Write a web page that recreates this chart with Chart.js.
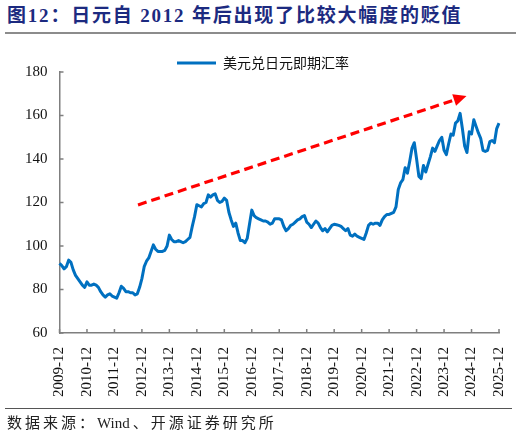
<!DOCTYPE html>
<html lang="zh-CN">
<head>
<meta charset="utf-8">
<title>日元自2012年后出现了比较大幅度的贬值</title>
<script src="https://cdn.jsdelivr.net/npm/chart.js@4.4.1/dist/chart.umd.min.js"></script>
<style>
  html, body { margin: 0; padding: 0; background: #fff; }
  body { width: 522px; height: 439px; position: relative; overflow: hidden; }
  .title {
    position: absolute; left: 7px; top: 4px;
    font: bold 19px "Liberation Serif", "Noto Sans CJK SC", serif;
    letter-spacing: 1.8px; line-height: 24px; color: #1c2a80; white-space: nowrap;
  }
  .rule-top { position: absolute; left: 5px; top: 32px; width: 511px; height: 2px; background: #8c8c8c; }
  .wrap { position: absolute; left: 7px; top: 40px; width: 524px; height: 381px; }
  .rule-bottom { position: absolute; left: 5px; top: 408px; width: 507px; height: 1px; background: #555; }
  .source {
    position: absolute; left: 7px; top: 413px;
    font: 15px "Liberation Serif", "Noto Sans CJK SC", serif;
    letter-spacing: 3px; line-height: 20px; color: #222; white-space: nowrap;
  }
  .source .en { letter-spacing: 0; margin-right: 3px; }
</style>
</head>
<body>
<div class="title">图12：日元自 2012 年后出现了比较大幅度的贬值</div>
<div class="rule-top"></div>
<div class="wrap"><canvas id="fxChart"></canvas></div>
<div class="rule-bottom"></div>
<div class="source">数据来源：<span class="en">Wind</span>、开源证券研究所</div>

<script>
// 横轴标签（每年12月）
const tickLabels = ['2009-12', '2010-12', '2011-12', '2012-12', '2013-12', '2014-12', '2015-12', '2016-12',
    '2017-12', '2018-12', '2019-12', '2020-12', '2021-12', '2022-12', '2023-12', '2024-12', '2025-12'];

// 美元兑日元即期汇率，月度，2009-12 起
const usdJpy = [
    92,
    91, 89.5, 90.5, 93.5, 92.5, 89, 86.5, 85, 83.5, 82, 81, 83.5,                 // 2010
    82, 82, 82.5, 82, 81, 79, 77.5, 76.5, 77.5, 78, 77, 76.5,                     // 2011
    76, 78.5, 81.5, 80.5, 79, 79, 78.5, 78.5, 77.5, 78, 81, 85,                   // 2012
    90.5, 93, 94.5, 97.5, 100.5, 98.5, 97.5, 97.5, 97.5, 98, 100, 105,            // 2013
    103, 102, 102, 102.5, 102, 101.5, 102, 103, 104, 109, 113.5, 119,             // 2014
    118.5, 118, 119.5, 120, 123.5, 122.5, 123.5, 124, 121, 120, 120.5, 122,       // 2015
    121, 115.5, 112, 109, 110.5, 106, 102.5, 102.5, 101.5, 103.5, 110, 116.5,     // 2016
    114, 113, 112.5, 112, 111.5, 111.5, 111, 110, 110.5, 112.5, 112.5, 112.5,     // 2017
    112, 109, 107, 108, 109.5, 110, 111, 112, 112.5, 113.5, 114, 111,             // 2018
    110, 108.5, 110, 111.5, 110.5, 108.5, 107, 108, 106.5, 108, 109.5, 110,       // 2019
    109.8, 109.5, 109, 108, 107, 108, 105, 104.5, 105.5, 104.5, 104, 103.5,       // 2020
    103, 106, 109.5, 110.5, 110, 110.5, 110.5, 109.5, 112, 113.5, 114.5, 114.5,   // 2021
    115, 115.5, 118, 126, 129, 130.5, 136, 133.5, 139, 145, 147.5, 140,           // 2022
    132, 131, 137, 134, 137.5, 141, 145, 143.5, 146, 148.5, 150, 144,             // 2023
    142, 147, 151.5, 151, 156.5, 157.5, 161, 154, 146, 143, 152.5, 151.5,         // 2024
    158, 155, 152, 149.5, 144, 143.5, 144, 148, 148.5, 147.5, 154, 156.5          // 2025
];

// 月份标签
const months = usdJpy.map((_, i) => {
    const n = 11 + i;
    return `${2009 + Math.floor(n / 12)}-${String(n % 12 + 1).padStart(2, '0')}`;
});

// 红色虚线箭头（数据坐标：月份序号, 汇率）
const trendFrom = { i: 34.3, v: 118.9 };
const trendTo = { i: 177.8, v: 169 };

const AXIS_GREY = '#7f7f7f';

// 刻度线朝内
const innerTicks = {
    id: 'innerTicks',
    beforeDatasetsDraw(chart) {
        const { ctx, scales: { x, y } } = chart;
        ctx.save();
        ctx.strokeStyle = AXIS_GREY;
        ctx.lineWidth = 1.5;
        ctx.beginPath();
        y.ticks.forEach((t, i) => {
            const py = y.getPixelForTick(i);
            ctx.moveTo(x.left, py);
            ctx.lineTo(x.left + 4, py);
        });
        months.forEach((m, i) => {
            if (!tickLabels.includes(m)) return;
            const px = x.getPixelForValue(i);
            ctx.moveTo(px, y.bottom);
            ctx.lineTo(px, y.bottom - 4);
        });
        ctx.stroke();
        ctx.restore();
    }
};

// 箭头
const trendArrow = {
    id: 'trendArrow',
    afterDatasetsDraw(chart) {
        const { ctx, scales: { x, y } } = chart;
        const x1 = x.getPixelForValue(trendFrom.i), y1 = y.getPixelForValue(trendFrom.v);
        const x2 = x.getPixelForValue(trendTo.i), y2 = y.getPixelForValue(trendTo.v);
        const ang = Math.atan2(y2 - y1, x2 - x1);
        const head = 13, half = 6;
        const bx = x2 - head * Math.cos(ang), by = y2 - head * Math.sin(ang);
        ctx.save();
        ctx.strokeStyle = '#ff0000';
        ctx.fillStyle = '#ff0000';
        ctx.lineWidth = 3.2;
        ctx.setLineDash([9, 5]);
        ctx.beginPath();
        ctx.moveTo(x1, y1);
        ctx.lineTo(bx, by);
        ctx.stroke();
        ctx.setLineDash([]);
        ctx.beginPath();
        ctx.moveTo(x2, y2);
        ctx.lineTo(bx + half * Math.sin(ang), by - half * Math.cos(ang));
        ctx.lineTo(bx - half * Math.sin(ang), by + half * Math.cos(ang));
        ctx.closePath();
        ctx.fill();
        ctx.restore();
    }
};

// 图例紧贴绘图区
const legendTrim = {
    id: 'legendTrim',
    beforeLayout(chart) {
        const lg = chart.legend;
        if (!lg || lg._trimmed) return;
        const fit = lg.fit;
        lg.fit = function () { fit.call(this); this.height -= 8; };
        lg._trimmed = true;
    }
};

const ctx = document.getElementById('fxChart').getContext('2d');
new Chart(ctx, {
    type: 'line',
    data: {
        labels: months,
        datasets: [{
            label: '美元兑日元即期汇率',
            data: usdJpy,
            borderColor: '#0070C0',
            backgroundColor: '#0070C0',
            borderWidth: 3,
            pointRadius: 0,
            tension: 0,
            fill: false,
            borderJoinStyle: 'round'
        }]
    },
    options: {
        responsive: true,
        maintainAspectRatio: false,
        animation: false,
        layout: { padding: { left: 6, right: 18, top: 14, bottom: 10 } },
        scales: {
            x: {
                grid: { display: false, drawTicks: false },
                border: { display: true, color: AXIS_GREY, width: 1.5 },
                ticks: {
                    autoSkip: false,
                    minRotation: 90,
                    maxRotation: 90,
                    padding: 14,
                    color: '#111',
                    font: { family: '"Liberation Serif", serif', size: 15 },
                    callback: (val, i) => tickLabels.includes(months[i]) ? months[i] : ''
                }
            },
            y: {
                min: 60,
                max: 180,
                grid: { display: false, drawTicks: false },
                border: { display: true, color: AXIS_GREY, width: 1.5 },
                ticks: {
                    stepSize: 20,
                    padding: 12,
                    color: '#111',
                    font: { family: '"Liberation Serif", serif', size: 15 }
                }
            }
        },
        plugins: {
            legend: {
                position: 'top',
                labels: {
                    boxWidth: 39,
                    boxHeight: 3,
                    padding: 2,
                    color: '#111',
                    font: { family: '"Noto Sans CJK SC", sans-serif', size: 14 },
                    generateLabels: chart => Chart.defaults.plugins.legend.labels.generateLabels(chart)
                        .map(l => ({ ...l, fillStyle: '#0070C0', lineWidth: 0 }))
                }
            },
            tooltip: { enabled: false }
        }
    },
    plugins: [innerTicks, trendArrow, legendTrim]
});
</script>
</body>
</html>
